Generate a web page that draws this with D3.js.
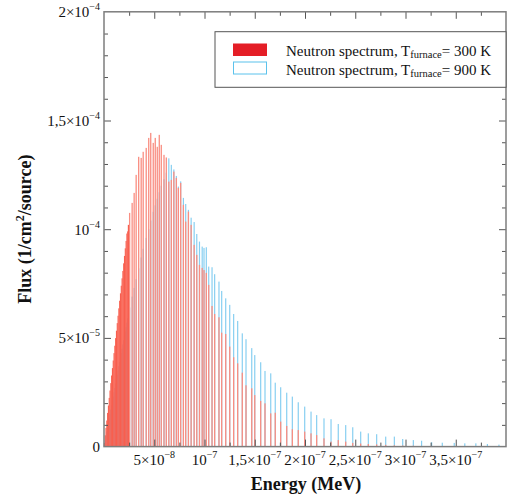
<!DOCTYPE html>
<html><head><meta charset="utf-8">
<script src="https://cdn.jsdelivr.net/npm/d3@7"></script>
<style>
body{margin:0;background:#fff}
svg{display:block}
text{font-family:"Liberation Serif","Times New Roman",serif;fill:#111}
</style>
</head><body>
<svg id="chart" width="510" height="499"></svg>
<script>
// Bin energies in meV (1 meV = 1e-9 MeV)
const energy_meV = [
 0.4,1.2,2.0,2.8,3.6,4.4,5.2,6.0,6.8,7.6,8.4,9.2,10.0,10.8,11.6,12.4,13.2,14.0,14.8,15.6,
 16.4,17.2,18.0,18.8,19.6,20.4,21.2,22.0,22.8,23.6,24.4,
 25.5,28,30,32,34.5,37,39,42,44.5,46.5,49,51,53,55,57,59.7,62,64.5,67,69.5,72,74,76.3,79,
 81.3,84,86.7,89.7,92.3,95,97.7,99.5,101.8,104.2,107.5,110.1,114.4,117.1,121.1,125.1,129,
 133,137.6,141.3,147,150,155.9,160.2,165.9,170.4,175.8,181.8,187.4,193.3,199.7,206,211.6,
 218.9,225.9,233.1,240.5,247.5,255.4,263,271.3,280.3,288.9,297.2,307.8,316,326,336.6,348.5,
 359,370,381.5,393
];
// Flux per source, in units of 1e-5 (1/cm2/source), T_furnace = 300 K
const flux300 = [
 0.17,0.52,0.86,1.20,1.55,1.89,2.24,2.58,2.92,3.27,3.61,3.96,4.30,4.64,4.99,5.33,5.68,6.02,6.36,6.71,
 7.05,7.40,7.74,8.08,8.43,8.77,9.12,9.46,9.80,9.90,10.2,
 10.75,11.21,11.67,12.50,13.33,13.28,13.56,13.74,14.20,14.43,13.97,14.20,13.79,14.34,13.88,13.42,13.30,12.19,12.27,12.65,12.36,11.90,12.13,11.12,
 10.35,10.81,10.20,9.28,8.82,8.36,8.22,8.12,7.99,7.44,6.47,6.10,5.95,5.24,5.18,4.60,4.11,
 3.83,3.40,2.82,2.68,2.37,2.10,1.99,1.53,1.56,1.15,0.95,0.80,0.76,0.69,0.61,0.53,
 0.38,0.23,0.30,0.23,0.17,0.14,0.12,0.10,0.08,0.06,0.05,0.04,0.03,0.03,0.02,0.02,
 0.01,0.01,0.01,0.01
];
// Flux per source, in units of 1e-5 (1/cm2/source), T_furnace = 900 K
const flux900 = [
 0.1,0.3,0.5,0.7,0.9,1.1,1.3,1.5,1.7,1.9,2.1,2.3,2.5,2.7,2.9,3.1,3.3,3.5,3.7,3.9,
 4.1,4.3,4.5,4.7,4.9,5.1,5.3,5.5,5.7,5.9,6.1,
 6.4,6.9,7.3,7.7,8.2,8.7,9.1,9.6,10.0,10.4,10.8,11.1,11.4,11.7,12.0,12.3,12.6,13.26,12.96,12.75,12.45,11.96,12.2,11.44,
 11.16,10.89,10.53,10.33,9.78,9.43,9.20,9.14,9.17,8.28,8.25,7.93,7.59,7.16,6.82,6.52,6.10,
 5.78,5.21,4.94,4.53,4.21,3.88,3.48,3.37,2.94,2.73,2.48,2.30,2.04,1.84,1.61,1.45,
 1.30,1.26,1.04,0.99,0.89,0.69,0.61,0.57,0.46,0.46,0.35,0.30,0.27,0.20,0.18,0.17,
 0.15,0.15,0.12,0.09
];
const seriesNames = ["Neutron spectrum, T", "Neutron spectrum, T"];
const seriesSub = ["furnace", "furnace"];
const seriesTemps = ["= 300 K", "= 900 K"];

const xTickValues = [5e-8,1e-7,1.5e-7,2e-7,2.5e-7,3e-7,3.5e-7];
const xTickMantissa = ["5×","","1,5×","2×","2,5×","3×","3,5×"];
const xTickExponent = ["−8","−7","−7","−7","−7","−7","−7"];
const yTickValues = [0,5e-5,1e-4,1.5e-4,2e-4];
const yTickMantissa = ["0","5×","","1,5×","2×"];
const yTickExponent = ["","−5","−4","−4","−4"];

const svg = d3.select("#chart");
const L=104, R=506, T=11.8, B=446.6;
const x = d3.scaleLinear().domain([0,4e-7]).range([L,R]);
const y = d3.scaleLinear().domain([0,2e-4]).range([B,T]);

const E = energy_meV.map(v=>v*1e-9);
const red = "#f98e82", blue = "#88cff1";

// 900 K bars
const gBlue = svg.append("g");
E.forEach((e,i)=>{
  const v = flux900[i]*1e-5;
  const px = x(e);
  gBlue.append("rect").attr("x",px-0.6).attr("y",y(v)).attr("width",1.2).attr("height",B-y(v))
    .attr("fill",blue);
});
// 300 K bars
const gRed = svg.append("g");
E.forEach((e,i)=>{
  const v = flux300[i]*1e-5;
  const px = x(e);
  const gap = i<E.length-1 ? x(E[i+1])-px : 10;
  const w = gap<1.2 ? gap+0.3 : 1.3;
  gRed.append("rect").attr("x",px-w/2).attr("y",y(v)).attr("width",w).attr("height",B-y(v))
    .attr("fill", gap<1.2 ? "#f85f4f" : red);
});

// ticks
const minorX = d3.range(1,16).map(k=>k*2.5e-8).filter(v=>Math.round(v/2.5e-8)%2===1);
const majorX = xTickValues;
const minorY = d3.range(1,20).map(k=>k*1e-5).filter(v=>Math.round(v/1e-5)%5!==0);
const majorY = yTickValues.filter(v=>v>0 && v<2e-4);
function styl(g){g.select(".domain").remove();g.selectAll("line").attr("stroke","#555").attr("stroke-width",1);g.selectAll("text").remove();}
svg.append("g").attr("transform",`translate(0,${B})`).call(d3.axisBottom(x).tickValues(minorX).tickSize(-4)).call(styl);
svg.append("g").attr("transform",`translate(0,${B})`).call(d3.axisBottom(x).tickValues(majorX).tickSize(-7)).call(styl);
svg.append("g").attr("transform",`translate(0,${T})`).call(d3.axisTop(x).tickValues(minorX).tickSize(-4)).call(styl);
svg.append("g").attr("transform",`translate(0,${T})`).call(d3.axisTop(x).tickValues(majorX).tickSize(-7)).call(styl);
svg.append("g").attr("transform",`translate(${L},0)`).call(d3.axisLeft(y).tickValues(minorY).tickSize(-4)).call(styl);
svg.append("g").attr("transform",`translate(${L},0)`).call(d3.axisLeft(y).tickValues(majorY).tickSize(-7)).call(styl);
svg.append("g").attr("transform",`translate(${R},0)`).call(d3.axisRight(y).tickValues(minorY).tickSize(-4)).call(styl);
svg.append("g").attr("transform",`translate(${R},0)`).call(d3.axisRight(y).tickValues(majorY).tickSize(-7)).call(styl);

// frame
svg.append("rect").attr("x",L).attr("y",T).attr("width",R-L).attr("height",B-T)
  .attr("fill","none").attr("stroke","#7d7d7d").attr("stroke-width",1.5);

// x tick labels
xTickValues.forEach((v,i)=>{
  const t = svg.append("text").attr("x",x(v)).attr("y",B+18.5).attr("text-anchor","middle").attr("font-size",15);
  t.append("tspan").text(xTickMantissa[i]+"10");
  t.append("tspan").attr("font-size",10).attr("dy",-7).text(xTickExponent[i]);
});
// y tick labels
yTickValues.forEach((v,i)=>{
  const t = svg.append("text").attr("x",100).attr("y",y(v)+5.5).attr("text-anchor","end").attr("font-size",15);
  if (yTickExponent[i]===""){ t.text(yTickMantissa[i]); }
  else {
    t.append("tspan").text(yTickMantissa[i]+"10");
    t.append("tspan").attr("font-size",10).attr("dy",-7).text(yTickExponent[i]);
  }
});

// axis titles
svg.append("text").attr("x",306).attr("y",490).attr("text-anchor","middle")
  .attr("font-size",18).attr("font-weight","bold").text("Energy (MeV)");
const yt = svg.append("text").attr("transform",`translate(31,${(T+B)/2}) rotate(-90)`)
  .attr("text-anchor","middle").attr("font-size",18).attr("font-weight","bold");
yt.append("tspan").text("Flux (1/cm");
yt.append("tspan").attr("font-size",12).attr("dy",-7).text("2");
yt.append("tspan").attr("dy",7).text("/source)");

// legend
const lg = svg.append("g");
lg.append("rect").attr("x",215).attr("y",31.7).attr("width",R-215).attr("height",55.6)
  .attr("fill","#fff").attr("stroke","#555").attr("stroke-width",1);
lg.append("rect").attr("x",233).attr("y",43.5).attr("width",34).attr("height",12.5).attr("fill","#e41e26");
lg.append("rect").attr("x",233.5).attr("y",62).attr("width",33).attr("height",12)
  .attr("fill","#fff").attr("stroke","#5bc2ec").attr("stroke-width",1);
[56,74.5].forEach((by,i)=>{
  const t = lg.append("text").attr("x",286).attr("y",by).attr("font-size",15);
  t.append("tspan").text(seriesNames[i]);
  t.append("tspan").attr("font-size",10.5).attr("dy",2).text(seriesSub[i]);
  t.append("tspan").attr("dy",-2).text(seriesTemps[i]);
});
</script>
</body></html>
